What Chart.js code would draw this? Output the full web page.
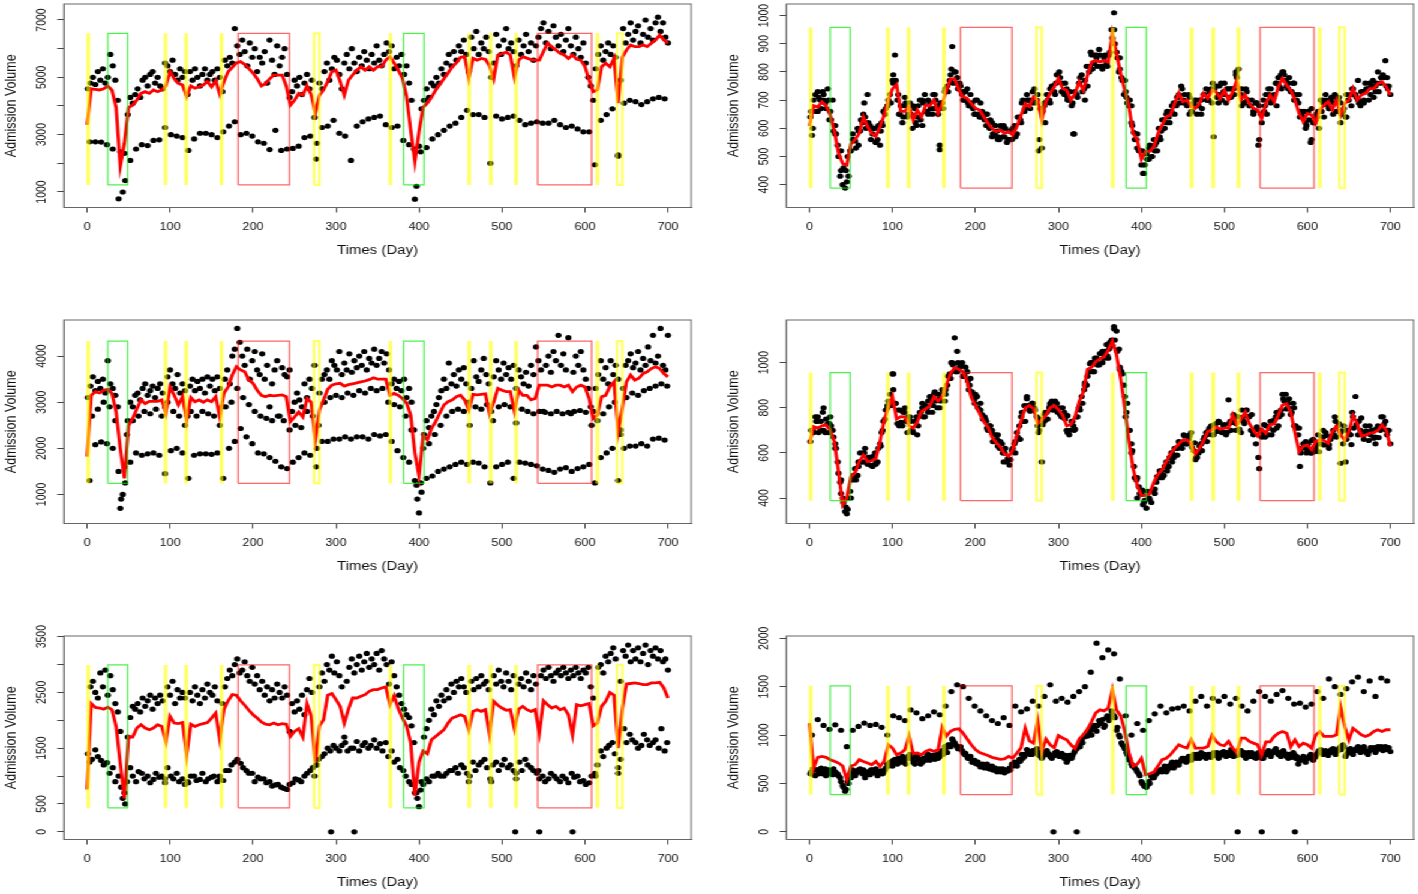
<!DOCTYPE html>
<html>
<head>
<meta charset="utf-8">
<title>Admission Volume</title>
<script src="https://cdn.jsdelivr.net/npm/chart.js@4.4.0/dist/chart.umd.min.js"></script>
<style>
  html, body { margin: 0; padding: 0; background: #fff; overflow: hidden; }
  #page { position: absolute; left: 0; top: 0; width: 1182px; height: 894px; transform: scaleX(1.2); transform-origin: 0 0; }
  .cell { position: absolute; width: 580px; height: 274px; }
</style>
</head>
<body>
<div id="page">
  <div class="cell" style="left:0;top:-12px"><canvas id="c1" width="580" height="274"></canvas></div>
  <div class="cell" style="left:601.6px;top:-12px"><canvas id="c2" width="580" height="274"></canvas></div>
  <div class="cell" style="left:0;top:304px"><canvas id="c3" width="580" height="274"></canvas></div>
  <div class="cell" style="left:601.6px;top:304px"><canvas id="c4" width="580" height="274"></canvas></div>
  <div class="cell" style="left:0;top:620px"><canvas id="c5" width="580" height="274"></canvas></div>
  <div class="cell" style="left:601.6px;top:620px"><canvas id="c6" width="580" height="274"></canvas></div>
</div>
<script>
// DAYS
const lineDays = [0,5,10,15,20,25,30,35,40,45,50,55,60,65,70,75,80,85,90,95,100,105,110,115,120,125,130,135,140,145,
  150,155,160,165,170,175,180,185,190,195,200,205,210,215,220,225,230,235,240,245,250,255,260,265,270,275,280,285,290,295,
  300,305,310,315,320,325,330,335,340,345,350,355,360,365,370,375,380,385,390,395,400,405,410,415,420,425,430,435,440,445,
  450,455,460,465,470,475,480,485,490,495,500,505,510,515,520,525,530,535,540,545,550,555,560,565,570,575,580,585,590,595,
  600,605,610,615,620,625,630,635,640,645,650,655,660,665,670,675,680,685,690,695,700];

const dayA = [1,4,7,10,13,16,19,22,25,28,31,34,37,40,43,46,49,52,55,58,61,64,67,70,73,76,79,82,85,88,
  91,94,97,100,103,106,109,112,115,118,121,124,127,130,133,136,139,142,145,148,151,154,157,160,163,166,169,172,175,178,
  181,184,187,190,193,196,199,202,205,208,211,214,217,220,223,226,229,232,235,238,241,244,247,250,253,256,259,262,265,268,
  271,274,277,280,283,286,289,292,295,298,301,304,307,310,313,316,319,322,325,328,331,334,337,340,343,346,349,352,355,358,
  361,364,367,370,373,376,379,382,385,388,391,394,397,400,403,406,409,412,415,418,421,424,427,430,433,436,439,442,445,448,
  451,454,457,460,463,466,469,472,475,478,481,484,487,490,493,496,499,502,505,508,511,514,517,520,523,526,529,532,535,538,
  541,544,547,550,553,556,559,562,565,568,571,574,577,580,583,586,589,592,595,598,601,604,607,610,613,616,619,622,625,628,
  631,634,637,640,643,646,649,652,655,658,661,664,667,670,673,676,679,682,685,688,691,694,697,700];

const dayD = [2,5,8,11,14,17,20,23,26,29,32,35,38,41,44,47,50,53,56,59,62,65,68,71,74,77,80,83,86,89,
  92,95,98,101,104,107,110,113,116,119,122,125,128,131,134,137,140,143,146,149,152,155,158,161,164,167,170,173,176,179,
  182,185,188,191,194,197,200,203,206,209,212,215,218,221,224,227,230,233,236,239,242,245,248,251,254,257,260,263,266,269,
  272,275,278,281,284,287,290,293,296,299,302,305,308,311,314,317,320,323,326,329,332,335,338,341,344,347,350,353,356,359,
  362,365,368,371,374,377,380,383,386,389,392,395,398,401,404,407,410,413,416,419,422,425,428,431,434,437,440,443,446,449,
  452,455,458,461,464,467,470,473,476,479,482,485,488,491,494,497,500,503,506,509,512,515,518,521,524,527,530,533,536,539,
  542,545,548,551,554,557,560,563,566,569,572,575,578,581,584,587,590,593,596,599,602,605,608,611,614,617,620,623,626,629,
  632,635,638,641,644,647,650,653,656,659,662,665,668,671,674,677,680,683,686,689,692,695,698];

const dayB = [3,10,17,24,31,38,45,52,59,66,73,80,87,94,101,108,115,122,129,136,143,150,157,164,171,178,185,192,199,206,
  213,220,227,234,241,248,255,262,269,276,283,290,297,304,311,318,325,332,339,346,353,360,367,374,381,388,395,402,409,416,
  423,430,437,444,451,458,465,472,479,486,493,500,507,514,521,528,535,542,549,556,563,570,577,584,591,598,605,612,619,626,
  633,640,647,654,661,668,675,682,689,696];

const dayC = [6,13,20,27,34,41,48,55,62,69,76,83,90,97,104,111,118,125,132,139,146,153,160,167,174,181,188,195,202,209,
  216,223,230,237,244,251,258,265,272,279,286,293,300,307,314,321,328,335,342,349,356,363,370,377,384,391,398,405,412,419,
  426,433,440,447,454,461,468,475,482,489,496,503,510,517,524,531,538,545,552,559,566,573,580,587,594,601,608,615,622,629,
  636,643,650,657,664,671,678,685,692,699];

const zeroDays = [294, 322, 516, 545, 585];
const zeroVals = [0, 0, 0, 0, 0];

// HOLIDAYS
const yellowDays = [1.5, 94.5, 119.5, 162, 365.5, 460.5, 486.5, 517, 615];
const yellowSpans = [[273.5, 280], [638.5, 645]];
const greenSpans = [[25, 49], [381.5, 406]];
const redSpans = [[182, 244], [543, 608]];

// TICKS
const xTicks = [0, 100, 200, 300, 400, 500, 600, 700];
const p1Ticks = [1000, 2000, 3000, 4000, 5000, 6000, 7000];
const p1Labels = [1000, 3000, 5000, 7000];
const p2Ticks = [400, 500, 600, 700, 800, 900, 1000];
const p3Ticks = [1000, 2000, 3000, 4000];
const p4Ticks = [400, 600, 800, 1000];
const p5Ticks = [0, 500, 1000, 1500, 2000, 2500, 3000, 3500];
const p5Labels = [0, 500, 1500, 2500, 3500];
const p6Ticks = [0, 500, 1000, 1500, 2000];

// PANEL 1
const p1Line = [3340,4600,4580,4560,4600,4700,4550,3950,1900,2700,
  3950,4030,4210,4440,4500,4440,4560,4500,4560,4700,
  5200,4950,4790,4730,4330,4700,4620,4670,4730,4850,
  4670,4880,4400,4850,5200,5350,5500,5550,5450,5300,
  5150,4950,4700,4780,4950,5080,5080,5080,4700,4030,
  4200,4440,4380,4700,4400,3750,4380,4560,4850,5200,
  5250,4850,4380,4900,5080,5250,5370,5250,5370,5250,
  5370,5370,5600,5720,5500,5250,4970,4330,3160,2060,
  3100,3950,4100,4300,4550,4750,4950,5150,5370,5500,
  5700,5720,4970,5660,5600,5660,5630,5400,4950,5780,
  5820,5880,5780,5000,5600,5720,5670,5620,5600,5600,
  5900,6190,6070,5950,5840,5780,5660,5780,5630,5600,
  5370,4900,4500,4560,5370,5490,5370,5660,4100,5700,
  5950,6130,6070,6070,6130,6070,6190,6300,6480,6300,
  6190];
const p1A = [4600,4800,5000,4750,5200,4900,5300,4800,5000,5800,
  5400,4900,4200,2400,1000,1400,3700,4300,4100,4400,
  4600,4300,4900,5000,4700,5100,5200,4800,5000,4700,
  4600,5500,5400,5200,5600,5100,4900,5300,5000,5200,
  4400,5200,4900,5300,5000,4700,5100,5300,4900,5100,
  5200,4900,5300,5000,4500,5600,5400,5700,5500,6700,
  6100,5800,6300,5900,5400,6200,5700,6000,5200,5700,
  5500,5900,4800,6300,5600,5100,6100,5400,5700,6000,
  5100,4300,4500,4900,4700,5000,4400,4800,5100,4600,
  4900,3600,2700,4800,4600,5200,5500,4900,5300,5700,
  5600,5100,4600,5500,5800,5300,6000,5500,5200,5700,
  5400,5900,5600,5300,5800,5500,6100,5600,5400,5800,
  6200,5900,6100,5300,5700,5400,5800,5100,5400,4800,
  4200,2500,1200,2600,3900,4200,4600,4300,4800,4700,
  5000,4800,5300,5100,5500,5800,5400,5900,5600,6100,
  5900,6300,5800,5200,6400,6000,6600,5800,6200,6000,
  6400,5900,5000,5500,6500,6100,5800,6300,6700,6000,
  6200,5900,5400,6300,5800,6100,6500,5900,6200,5600,
  6100,6400,6700,6900,6200,6600,6000,6800,6400,6100,
  6500,5900,6300,6700,6100,5800,6400,6000,5700,6200,
  5500,5000,4700,4200,5300,5800,6100,5600,5900,6200,
  5800,6100,5700,2300,4900,6700,6200,6500,6900,6300,
  6600,6800,6200,6500,7000,6400,6700,6300,6900,7100,
  6600,6900,6400,6200];
const p1B = [2750,2750,2740,2650,2500,760,2350,2100,2500,2650,
  2620,2800,2820,3250,3000,2950,2900,2450,2850,3050,
  3050,3000,2900,3100,3300,3450,3000,3050,2950,2750,
  2700,2480,3150,2450,2500,2520,2600,2900,2950,2150,
  3250,3300,3500,3050,2950,2100,3300,3450,3550,3600,
  3650,3350,3250,3300,2800,2650,750,2400,2550,2850,
  3000,3150,3300,3400,3600,3850,3700,3700,3600,2000,
  3650,3550,3600,3650,3500,3350,3400,3450,3400,3400,
  3500,3350,3250,3300,3200,3100,3100,1950,3500,3700,
  3900,2250,4100,4200,4150,4050,4150,4250,4300,4250];

// PANEL 2
const p2Line = [608,680,675,694,680,647,590,512,475,470,
  545,560,582,640,606,582,571,606,647,700,
  740,755,660,660,677,630,665,641,682,680,
  700,653,688,735,775,775,735,712,706,688,
  671,665,641,618,600,588,594,582,588,577,
  606,647,688,677,712,700,630,694,724,747,
  777,741,735,700,724,765,735,788,835,841,
  835,841,835,935,865,794,735,677,582,559,
  490,518,518,535,582,612,641,647,688,724,
  694,700,677,671,688,724,706,735,729,706,
  735,700,729,771,700,718,688,671,665,635,
  688,718,694,747,777,753,735,700,653,624,
  653,647,618,665,682,694,665,700,647,688,
  700,741,700,718,724,741,741,759,765,747,
  718];
const p2A = [640,600,720,660,700,730,690,740,660,700,
  610,540,430,400,388,500,520,580,555,600,
  590,620,640,720,610,580,600,560,540,610,
  650,680,720,770,860,700,650,620,680,640,
  690,600,670,640,700,610,720,660,690,650,
  720,680,524,690,730,750,770,890,800,760,
  760,720,700,740,680,690,650,700,640,660,
  630,650,600,620,580,590,560,600,570,550,
  590,560,610,580,640,690,660,720,700,690,
  740,700,560,530,690,720,700,750,730,790,
  800,760,720,740,700,680,580,720,760,790,
  740,820,800,860,830,850,880,820,850,830,
  860,950,1010,870,800,780,720,710,680,620,
  585,560,520,470,440,510,530,500,560,550,
  600,590,630,650,640,660,690,680,720,750,
  700,690,720,660,690,700,680,650,720,740,
  700,740,570,750,720,760,730,690,740,710,
  740,790,810,720,690,740,700,680,660,690,
  540,650,700,720,740,690,710,760,780,790,
  800,770,760,730,760,720,690,660,640,600,
  660,550,620,630,660,700,690,720,680,700,
  650,710,700,690,660,640,700,720,740,720,
  700,680,730,760,740,720,770,750,800,760,
  790,840,740,720];
const p2D = [660,700,660,710,670,720,670,700,630,590,
  580,500,520,460,450,430,520,560,530,590,
  630,650,600,620,560,600,550,610,590,660,
  670,700,690,760,770,720,680,640,690,650,
  650,680,620,680,630,690,660,700,670,720,
  700,650,690,670,740,730,790,760,800,740,
  750,700,730,690,720,670,700,650,690,640,
  650,610,630,580,610,570,610,570,600,560,
  560,600,570,640,630,700,670,700,670,730,
  690,720,670,660,620,700,690,750,720,790,
  780,730,760,700,730,690,730,710,780,730,
  770,750,820,810,860,820,860,820,860,820,
  870,920,900,850,850,770,770,690,700,610,
  560,580,520,520,470,490,540,500,540,520,
  570,630,600,660,620,680,650,710,690,740,
  720,680,710,660,700,650,700,670,720,700,
  730,690,740,710,750,700,720,740,710,740,
  720,780,740,740,690,730,680,700,660,690,
  680,620,660,650,720,700,720,680,750,740,
  790,750,780,730,760,700,720,650,660,610,
  630,670,620,650,600,660,640,700,670,710,
  690,660,710,650,670,640,700,680,720,710,
  690,730,690,740,700,750,710,760,730,780,
  780,750,750];
const p2B = [575,730,700,630,580,450,410,560,540,690,
  600,550,620,680,790,650,710,650,610,700,
  650,670,540,740,810,780,730,680,650,640,
  610,570,560,610,560,570,620,700,700,520,
  680,740,760,730,710,580,760,700,870,860,
  810,860,950,810,730,680,530,440,490,520,
  560,620,680,710,690,650,680,700,700,760,
  690,760,740,800,680,700,650,560,680,740,
  760,800,740,700,640,620,560,640,700,670,
  720,620,720,740,770,700,760,730,780,780];

// PANEL 3
const p3Line = [1820,3150,3230,3200,3260,3280,3190,2790,2000,1350,
  2500,2650,2860,3050,2970,3020,3020,3020,3050,2760,
  3330,3150,2940,3120,2610,3100,3010,3050,3000,3050,
  3010,3120,2680,3200,3330,3590,3770,3700,3660,3480,
  3410,3260,3150,3120,3150,3140,3150,3160,3120,2580,
  2680,2790,2680,3080,3000,2180,2830,3050,3280,3370,
  3400,3410,3350,3380,3400,3420,3440,3460,3490,3530,
  3500,3500,3500,3150,3190,3150,3080,2980,2720,1900,
  1400,2280,2180,2430,2580,2760,2940,3010,3050,3120,
  3150,3050,2830,3170,3160,3170,3180,2750,3000,3300,
  3260,3230,3230,2800,3260,3150,3150,3050,3080,3370,
  3370,3370,3330,3370,3370,3330,3370,3230,3330,3370,
  3330,3080,2650,2720,3120,3150,3340,3440,2350,2870,
  3440,3590,3480,3520,3620,3660,3730,3770,3730,3620,
  3550];
const p3A = [3100,3350,3550,3250,3450,3300,3500,3200,3900,3400,
  3300,3150,2900,700,1000,1250,2600,3000,2900,3150,
  3200,3050,3300,3400,3150,3250,3350,3100,3300,3400,
  3200,2900,3550,3700,3400,3300,3600,3200,3400,3250,
  2700,3350,3500,3250,3450,3300,3500,3200,3550,3350,
  3500,3250,3550,3300,2900,3500,3700,3400,4000,4150,
  4600,4300,4000,3800,4150,3500,3900,4100,3700,3600,
  4050,3500,3800,2900,3400,3700,3900,2700,3750,3600,
  3550,3700,2800,3000,3200,3050,2900,3400,3100,3500,
  3300,3800,2000,3200,3500,3600,3700,3500,3900,3800,
  3700,4100,3600,3850,3700,4050,3650,3900,3750,4000,
  3800,4100,3700,3950,3850,4150,3800,3950,4100,3850,
  4050,3700,3400,3500,3300,3450,3250,3500,3100,3300,
  3000,2400,1200,600,1050,2300,2600,2450,2700,2800,
  2950,3100,3250,3500,3300,3850,3400,3600,3350,3700,
  3500,3750,3400,3000,3300,3900,3550,3450,3700,3950,
  3600,3400,2800,3550,3900,3700,3500,3850,3600,3750,
  3500,3800,3300,3700,3550,3400,3650,3350,3800,3600,
  4200,3900,3700,2800,3800,4000,3650,4100,3900,4450,
  3800,4050,3700,4400,2750,3650,4000,3800,4100,3700,
  3500,3300,2900,2800,3300,3600,3900,3500,3750,3400,
  3900,3600,3800,3500,2400,3300,3800,3900,4050,3750,
  3850,4100,3700,3950,3800,4200,3900,4450,3850,4000,
  4600,3800,3700,4450];
const p3B = [1300,2080,2140,2100,2000,1500,1600,1700,1900,1850,
  1880,1900,1850,1450,1950,2000,1900,1350,1850,1880,
  1880,1870,1900,1350,2000,2150,2430,2250,2100,1900,
  1880,1800,1720,1600,1560,1700,1800,1900,1850,1600,
  2150,2150,2200,2200,2250,2200,2250,2250,2200,2300,
  2270,2300,2150,1950,1800,1700,1300,1250,1350,1400,
  1500,1550,1600,1650,1700,1650,1700,1680,1600,1250,
  1600,1650,1700,1350,1700,1680,1650,1620,1550,1520,
  1480,1550,1580,1500,1560,1600,1650,1250,1800,1900,
  2000,1300,2000,2050,2050,2100,2050,2200,2220,2180];
const p3C = [2700,2850,3000,2900,2600,900,2300,2600,2700,2800,
  2750,2850,2700,3000,2800,2700,2500,2800,2700,2800,
  2750,2700,2500,2900,3000,3300,3100,2950,2800,2700,
  2650,2600,2700,2600,2400,2500,2450,2800,2700,2500,
  3000,3100,3150,3100,3200,3150,3250,3200,3300,3250,
  3300,3000,2950,2900,2700,2400,900,2000,2100,2300,
  2500,2700,2800,2850,2800,2500,2900,2850,2950,2600,
  2900,2950,2900,2550,2850,2800,2750,2800,2780,2750,
  2800,2750,2780,2800,2820,2780,2500,2600,2750,2900,
  3000,2300,3100,3200,3150,3250,3300,3350,3400,3350];

// PANEL 4
const p4Line = [642,716,710,720,724,700,650,517,370,400,
  495,512,561,590,561,565,575,650,745,800,
  850,750,761,760,720,710,738,783,795,808,
  849,830,850,900,953,978,970,960,916,845,
  810,775,738,715,670,645,627,595,585,612,
  679,740,800,810,797,730,745,768,800,810,
  792,768,720,725,760,827,870,970,980,1004,
  1017,1025,1055,1095,1034,930,800,650,531,455,
  410,412,420,470,505,525,561,595,620,640,
  657,657,640,595,620,655,695,701,716,705,
  710,710,768,724,750,780,731,700,675,705,
  687,725,728,768,812,818,780,690,605,630,
  635,615,650,658,655,642,694,718,680,657,
  694,765,730,675,679,687,690,700,724,700,
  630];
const p4A = [650,700,760,740,700,780,690,730,760,700,
  640,560,470,400,340,350,430,480,530,500,
  600,560,620,550,580,540,600,560,640,700,
  750,800,860,950,820,730,790,720,780,690,
  760,700,740,680,780,820,760,800,850,780,
  870,800,840,880,830,900,950,1000,1110,960,
  980,1000,940,960,900,870,820,850,790,770,
  760,710,720,690,650,660,620,640,600,560,
  570,610,640,690,720,780,810,840,790,820,
  800,760,700,560,740,780,800,830,790,820,
  800,760,780,700,680,740,700,760,800,850,
  880,900,960,1000,960,1010,990,1040,1020,1080,
  1060,1100,1150,1140,1060,960,900,780,700,640,
  540,480,450,420,380,355,400,380,430,470,
  490,520,500,560,540,600,580,620,650,640,
  680,640,660,690,610,580,600,640,660,690,
  700,720,680,730,740,700,720,680,835,700,
  770,730,760,690,740,790,760,700,680,640,
  580,700,690,720,680,740,700,760,720,790,
  840,860,800,770,820,720,680,600,640,620,
  640,600,660,620,680,640,670,690,640,660,
  700,740,720,690,640,560,700,680,760,850,
  740,700,680,720,690,680,700,670,720,700,
  760,740,700,640];
const p4D = [700,690,740,690,740,700,750,690,720,670,
  620,510,480,380,360,400,400,500,480,560,
  560,600,560,580,545,585,555,620,630,740,
  790,830,810,880,820,790,735,780,740,760,
  740,690,740,720,780,760,810,780,830,810,
  830,860,830,870,860,940,930,990,960,1000,
  990,940,980,920,930,860,860,800,820,750,
  750,700,720,650,680,630,650,600,620,575,
  570,620,600,670,660,740,740,810,785,820,
  790,720,750,725,780,750,810,790,830,780,
  770,800,750,765,700,740,705,760,790,820,
  910,940,995,960,1020,990,1040,1000,1050,1030,
  1090,1075,1100,1050,970,950,850,820,700,610,
  490,490,420,435,390,430,395,435,420,495,
  520,490,540,520,580,560,620,590,645,620,
  675,640,675,625,645,580,630,610,670,650,
  710,680,725,695,735,690,725,690,730,735,
  740,760,705,755,730,790,760,770,700,715,
  700,670,725,680,710,680,745,710,760,770,
  830,795,840,780,800,710,710,620,630,600,
  615,655,605,635,605,670,635,678,636,670,
  680,670,730,698,720,660,685,637,710,725,
  740,755,680,697,655,699,665,707,668,710,
  725,700,700];
const p4B = [700,760,800,730,620,420,330,490,540,600,
  580,550,690,810,950,720,800,700,760,800,
  830,860,800,880,1000,1050,940,880,840,790,
  740,700,680,560,546,650,760,850,820,690,
  770,820,800,760,690,720,800,900,1000,1020,
  1050,1020,1160,980,760,600,400,370,400,440,
  500,540,600,620,640,680,570,640,680,720,
  740,690,740,700,790,760,690,530,670,740,
  780,860,820,720,540,650,600,640,700,620,
  760,554,700,780,680,660,720,640,760,680];

// PANEL 5
const p5Line = [760,2300,2230,2220,2200,2236,2190,1890,1230,600,
  1711,1700,1860,1920,1860,1830,1860,1920,1890,1620,
  2070,1950,1940,1960,1380,1930,1890,1920,1940,1960,
  2040,2130,1650,2200,2350,2460,2450,2350,2270,2180,
  2100,2040,1970,1930,1920,1950,1920,1940,1930,1710,
  1800,1850,1700,2300,2080,1250,1900,2010,2450,2480,
  2370,2250,1950,2200,2400,2400,2430,2460,2520,2550,
  2550,2580,2600,2280,2440,2210,2040,1900,1600,650,
  1250,1450,1400,1650,1710,1770,1830,1950,2040,2070,
  2100,2070,1830,2160,2190,2160,2190,1750,2340,2270,
  2220,2180,2190,1850,2200,2250,2190,2160,2190,1770,
  2350,2280,2220,2250,2190,2220,2100,1740,2280,2260,
  2280,2300,1900,1950,2250,2340,2500,2450,1500,2200,
  2650,2660,2670,2660,2640,2640,2670,2670,2680,2580,
  2400];
const p5A = [1400,2600,2700,2500,2400,2850,2600,2900,2450,2800,
  2550,2300,2150,1800,600,500,1700,2050,2250,2200,
  2300,2150,2400,2250,2350,2450,2200,2400,2300,2450,
  2350,950,2600,2450,2700,2300,2550,2400,2500,2400,
  900,2500,2350,2600,2450,2300,2550,2400,2650,2500,
  2450,2600,2350,1000,2300,2600,2750,2900,2800,3000,
  3100,2850,2900,3050,2800,2700,2950,2650,2800,2550,
  2700,2450,2600,2350,2550,2400,2650,2500,2400,2600,
  2450,1800,2300,2150,2350,2200,2450,2100,2550,2750,
  2500,1000,1200,2600,2850,2700,3000,2900,3150,2850,
  3050,2800,2600,1700,2700,2950,3100,2850,3000,3150,
  2900,3050,3200,2950,3100,3000,3200,2900,3250,3100,
  3000,2650,3050,2800,2600,2450,2300,2200,2100,2050,
  1900,1600,700,450,900,1700,1850,2000,2200,2100,
  2350,2250,2450,2350,2550,2400,2650,2500,2700,2600,
  2750,2600,2500,900,2700,2550,2750,2600,2800,2650,
  2700,2550,900,2800,2650,2900,2700,2600,2850,2700,
  2550,2800,950,2650,2750,2600,2850,2700,2550,2800,
  2650,1100,2800,2900,2750,2950,2800,2700,2850,2900,
  2800,2950,2850,2750,2900,2800,2950,2850,2750,2900,
  2850,2950,2600,2400,1000,2950,3000,2850,3150,3050,
  3200,3300,3100,1050,2700,3250,3150,3350,3050,3250,
  3100,3300,3050,3200,3350,3000,3250,3150,3300,3100,
  3250,3050,3100,2900];
const p5B = [1250,1470,1280,1240,1150,1000,700,1150,900,1050,
  1000,940,980,880,1000,1050,950,880,1000,940,
  900,980,900,920,1100,1250,1230,1100,1050,980,
  950,900,840,800,760,880,930,1000,1100,1200,
  1350,1500,1550,1450,1600,1500,1620,1550,1500,1650,
  1580,1600,1450,1300,1100,900,700,750,950,1000,
  1050,1000,1100,1150,1200,1050,1250,1200,1300,950,
  1250,1200,1150,1100,1250,1300,1150,1050,1000,950,
  1000,900,950,1050,1000,920,880,1050,1450,1500,
  1600,1150,1850,1750,1600,1550,1650,1600,1500,1450];
const p5C = [1300,1350,1200,1050,900,800,900,1000,1080,950,
  880,1050,1000,1150,950,900,850,1000,920,1050,
  950,1000,950,1100,1200,1300,1150,1050,900,950,
  880,820,850,780,850,950,900,1050,1150,1300,
  1400,1450,1500,1550,1450,1500,1450,1600,1550,1500,
  1450,1350,1250,1150,1000,850,600,850,900,1000,
  1000,1050,1100,1050,1150,1000,1100,1250,1150,1200,
  1100,1300,1200,1050,1100,1200,1100,950,900,1050,
  950,1000,880,980,900,850,1000,1200,1350,1550,
  1400,1300,1600,1650,1500,1750,1550,1650,1850,1600];

// PANEL 6
const p6Line = [1124,660,770,780,770,746,730,711,680,540,
  680,694,746,728,711,694,728,677,728,900,
  866,797,815,849,990,810,815,797,832,849,
  832,849,1080,990,1040,1060,1065,1020,960,900,
  850,820,805,790,770,760,750,755,780,763,
  815,870,1072,940,917,1150,832,960,900,870,
  995,970,952,900,860,960,1003,1060,1140,1230,
  1261,1250,1280,1467,1260,1200,1040,820,677,700,
  760,590,600,620,680,746,760,797,849,900,
  880,866,952,866,866,866,883,1000,935,900,
  890,935,865,820,969,969,935,917,900,797,
  930,930,986,1020,1037,1020,880,952,883,917,
  900,866,1000,1037,986,986,986,1003,1290,1089,
  950,1070,1037,1003,986,1003,1037,1055,1037,1055,
  1055];
const p6A = [600,650,580,640,620,600,650,610,630,590,
  620,600,560,480,420,520,600,640,580,620,
  650,600,560,620,590,640,610,580,620,600,
  640,700,720,680,750,700,740,780,720,760,
  800,750,700,780,740,720,760,790,740,770,
  750,800,780,840,880,820,900,960,920,880,
  860,840,800,780,760,720,740,700,690,680,
  660,700,650,680,640,620,650,630,610,640,
  660,700,720,680,750,800,780,850,830,800,
  820,860,790,760,820,840,800,760,790,830,
  780,810,760,720,790,760,820,860,900,950,
  980,1020,1060,1000,1100,1040,1150,1120,1080,1180,
  1150,1250,1200,1050,1000,920,880,820,760,700,
  680,640,600,520,480,460,520,580,560,600,
  620,640,660,620,680,700,660,720,690,740,
  760,720,780,740,800,760,780,820,780,760,
  800,770,820,790,760,800,830,780,810,850,
  780,820,800,840,790,760,820,780,800,760,
  820,780,760,800,840,780,820,860,800,780,
  840,800,760,790,820,760,700,740,780,720,
  760,800,740,780,820,850,800,840,790,820,
  860,800,840,880,900,780,820,860,800,840,
  880,820,860,840,800,870,850,820,880,860,
  840,880,860,830];
const p6D = [620,590,640,600,660,610,580,640,600,650,
  600,580,520,460,440,500,560,620,600,640,
  620,640,590,600,640,610,650,600,630,610,
  660,680,700,740,710,760,720,750,700,780,
  760,720,780,740,700,760,740,800,750,790,
  780,760,820,800,860,900,880,940,900,860,
  880,820,810,760,780,740,710,720,670,700,
  680,660,670,640,660,640,620,650,620,630,
  640,680,700,720,730,760,800,820,800,840,
  840,800,820,780,800,820,780,790,820,800,
  800,780,790,740,770,790,840,880,880,920,
  1000,990,1040,1080,1060,1100,1120,1160,1100,1200,
  1180,1220,1180,1080,980,900,860,800,740,680,
  660,620,580,500,470,480,500,560,580,620,
  640,620,680,640,660,720,680,700,720,760,
  740,760,760,780,770,800,760,800,800,780,
  780,800,790,820,780,820,800,820,790,830,
  800,790,840,810,820,780,800,820,770,800,
  800,760,790,820,800,810,840,830,820,800,
  820,780,800,770,800,780,740,760,750,760,
  780,770,760,800,840,820,830,810,820,850,
  830,830,860,850,880,800,850,830,840,860,
  850,840,880,820,830,850,870,840,860,880,
  860,850,870];
const p6B = [1000,1160,1100,1060,1106,1050,880,1050,1090,1124,
  1100,1110,1080,1000,1200,1180,1150,1260,1230,1170,
  1200,1240,1210,1300,1450,1520,1500,1380,1300,1250,
  1200,1150,1120,1180,1100,1300,1240,1270,1350,1300,
  1400,1520,1350,1380,1340,1400,1450,1500,1650,1950,
  1800,1880,1840,1580,1200,1000,1120,1050,1150,1220,
  1300,1230,1270,1280,1300,1250,1350,1400,1300,1380,
  1350,1400,1320,1380,1300,1250,1350,1450,1400,1350,
  1420,1460,1380,1320,1330,1290,1320,1450,1380,1580,
  1500,1420,1480,1550,1600,1450,1560,1400,1590,1560];

// CHARTS
const FONT = '"Liberation Sans", Arial, Helvetica, sans-serif';
const INK = '#111';

const panels = [
  { id: 'c1', line: p1Line, sets: [[dayA, p1A], [dayB, p1B]], y: [459, 7558], band: [1245, 6535], ticks: p1Ticks, labels: p1Labels },
  { id: 'c2', line: p2Line, sets: [[dayA, p2A], [dayD, p2D], [dayB, p2B]], y: [319, 1041], band: [388, 958], ticks: p2Ticks, labels: p2Ticks },
  { id: 'c3', line: p3Line, sets: [[dayA, p3A], [dayB, p3B], [dayC, p3C]], y: [370, 4783], band: [1240, 4325], ticks: p3Ticks, labels: p3Ticks },
  { id: 'c4', line: p4Line, sets: [[dayA, p4A], [dayD, p4D], [dayB, p4B]], y: [287, 1189], band: [388, 956], ticks: p4Ticks, labels: p4Ticks },
  { id: 'c5', line: p5Line, sets: [[dayA, p5A], [dayB, p5B], [dayC, p5C], [zeroDays, zeroVals]], y: [-138, 3512], band: [430, 2993], ticks: p5Ticks, labels: p5Labels },
  { id: 'c6', line: p6Line, sets: [[dayA, p6A], [dayD, p6D], [dayB, p6B], [zeroDays, zeroVals]], y: [-79, 2024], band: [385, 1508], ticks: p6Ticks, labels: p6Ticks }
];

const pts = (days, vals) => days.map((d, i) => ({ x: d, y: vals[i] }));
const box = (x0, x1, lo, hi) => [{ x: x0, y: lo }, { x: x0, y: hi }, { x: x1, y: hi }, { x: x1, y: lo }, { x: x0, y: lo }];

function overlays(lo, hi) {
  const out = [];
  const add = (data, color, w) => out.push({
    type: 'line', data, borderColor: color, borderWidth: w, borderJoinStyle: 'miter',
    pointRadius: 0, fill: false, tension: 0, order: 0
  });
  yellowDays.forEach(d => add([{ x: d, y: lo }, { x: d, y: hi }], 'rgba(255,255,0,0.6)', 3.2));
  yellowSpans.forEach(s => add(box(s[0], s[1], lo, hi), 'rgba(255,255,0,0.6)', 2.2));
  greenSpans.forEach(s => add(box(s[0], s[1], lo, hi), 'rgba(0,235,0,0.7)', 1.2));
  redSpans.forEach(s => add(box(s[0], s[1], lo, hi), 'rgba(255,0,0,0.6)', 1.3));
  return out;
}

const frame = {
  id: 'frame',
  afterDraw(chart) {
    const a = chart.chartArea, ctx = chart.ctx;
    ctx.save();
    ctx.strokeStyle = '#666';
    ctx.lineWidth = 1;
    ctx.strokeRect(a.left, a.top, a.right - a.left, a.bottom - a.top);
    ctx.restore();
  }
};

panels.forEach(p => {
  const datasets = overlays(p.band[0], p.band[1]);
  datasets.push({
    type: 'line', data: pts(lineDays, p.line), borderColor: '#ff0000', borderWidth: 2.8,
    pointRadius: 0, fill: false, tension: 0, order: 1
  });
  p.sets.forEach(([days, vals]) => datasets.push({
    type: 'scatter', data: pts(days, vals), pointRadius: 2.6, pointBackgroundColor: '#000',
    pointBorderWidth: 0, backgroundColor: '#000', order: 2
  }));

  new Chart(document.getElementById(p.id), {
    type: 'scatter',
    data: { datasets },
    options: {
      responsive: false,
      animation: false,
      events: [],
      layout: { padding: { left: 0, right: 4, top: 16, bottom: 0 } },
      plugins: { legend: { display: false }, tooltip: { enabled: false } },
      scales: {
        x: {
          type: 'linear', min: -28, max: 728,
          afterBuildTicks: s => { s.ticks = xTicks.map(v => ({ value: v })); },
          afterFit: s => { s.height = 54.5; s.paddingLeft = 0; s.paddingRight = 0; },
          grid: { drawOnChartArea: false, tickLength: 5, color: '#444' },
          border: { display: true, color: '#666' },
          ticks: { autoSkip: false, maxRotation: 0, padding: 8, color: INK, font: { family: FONT, size: 10.5 } },
          title: { display: true, text: 'Times (Day)', color: INK, font: { family: FONT, size: 12.5 }, padding: { top: 0, bottom: 4 } }
        },
        y: {
          type: 'linear', min: p.y[0], max: p.y[1],
          afterBuildTicks: s => { s.ticks = p.ticks.map(v => ({ value: v })); },
          afterFit: s => { s.width = 53.2; s.paddingTop = 0; s.paddingBottom = 0; },
          grid: { drawOnChartArea: false, tickLength: 5.5, color: '#444' },
          border: { display: true, color: '#666' },
          ticks: {
            autoSkip: false, minRotation: 90, maxRotation: 90, crossAlign: 'center', padding: 1,
            color: INK, font: { family: FONT, size: 10.5 },
            callback: v => p.labels.includes(v) ? String(v) : ''
          },
          title: { display: true, text: 'Admission Volume', color: INK, font: { family: FONT, size: 12.5 }, padding: { top: 1.7, bottom: 0 } }
        }
      }
    },
    plugins: [frame]
  });
});
</script>
</body>
</html>
